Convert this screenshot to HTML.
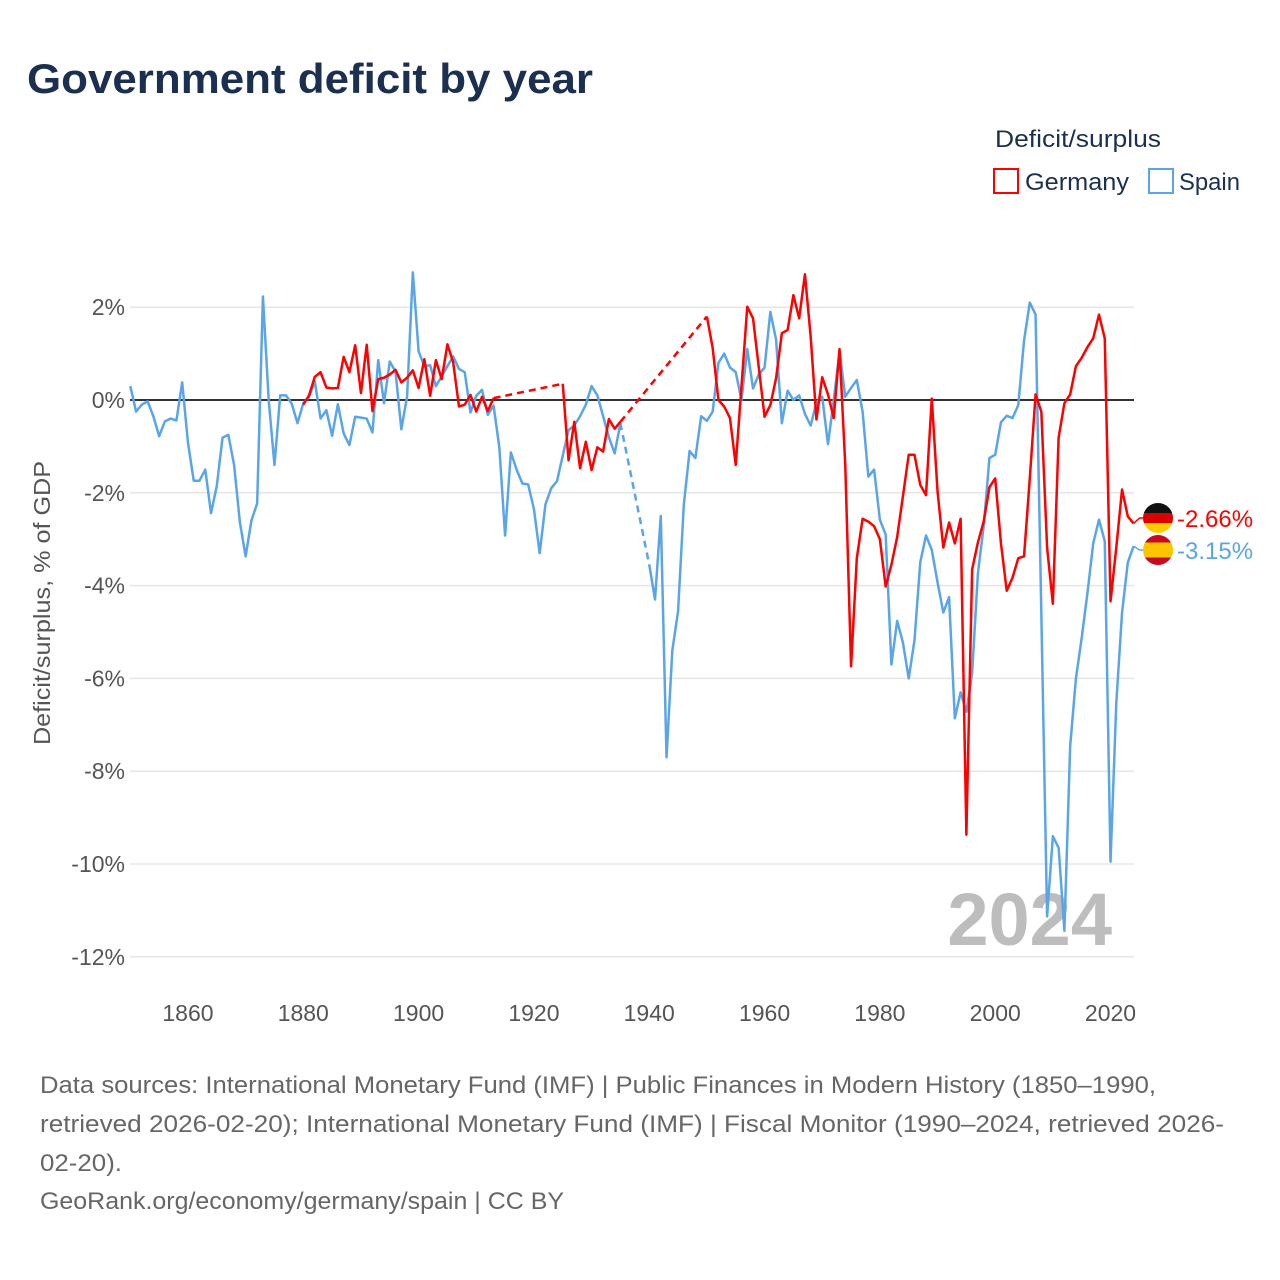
<!DOCTYPE html>
<html><head><meta charset="utf-8"><style>
html,body{margin:0;padding:0;background:#fff;}
svg{display:block;font-family:"Liberation Sans",sans-serif;}
</style></head><body>
<svg id="chart" width="1280" height="1280" viewBox="0 0 1280 1280">
<text x="27" y="93" font-size="42" font-weight="bold" fill="#1b3050" textLength="566" lengthAdjust="spacingAndGlyphs">Government deficit by year</text>
<text x="995" y="147" font-size="24" fill="#1b3050" textLength="166" lengthAdjust="spacingAndGlyphs">Deficit/surplus</text>
<g>
<rect x="994" y="169" width="24" height="24" fill="none" stroke="#f00" stroke-width="2"/>
<text x="1025" y="190" font-size="24" fill="#1b3050" textLength="104" lengthAdjust="spacingAndGlyphs">Germany</text></g>
<g>
<rect x="1149" y="169" width="24" height="24" fill="none" stroke="#5aa5ea" stroke-width="2"/>
<text x="1179" y="190" font-size="24" fill="#1b3050" textLength="61" lengthAdjust="spacingAndGlyphs">Spain</text></g>
<text transform="translate(50,603) rotate(-90)" text-anchor="middle" font-size="23" fill="#555" textLength="284" lengthAdjust="spacingAndGlyphs">Deficit/surplus, % of GDP</text>
<g id="grid"></g>
<g id="yticks"></g>
<g id="xticks"></g>
<text x="1112" y="945" text-anchor="end" font-size="74" font-weight="bold" fill="#bdbdbd">2024</text>
<line id="zero" x1="130" x2="1134" y1="400" y2="400" stroke="#333" stroke-width="2"/>
<g id="series"></g>
<g id="endlabels"></g>
<g fill="#666" font-size="24">
<text x="40" y="1093" textLength="1116" lengthAdjust="spacingAndGlyphs">Data sources: International Monetary Fund (IMF) | Public Finances in Modern History (1850–1990,</text>
<text x="40" y="1132" textLength="1184" lengthAdjust="spacingAndGlyphs">retrieved 2026-02-20); International Monetary Fund (IMF) | Fiscal Monitor (1990–2024, retrieved 2026-</text>
<text x="40" y="1171" textLength="82" lengthAdjust="spacingAndGlyphs">02-20).</text>
<text x="40" y="1209" textLength="524" lengthAdjust="spacingAndGlyphs">GeoRank.org/economy/germany/spain | CC BY</text>
</g>
</svg>
<script>
const yTicks = [2, 0, -2, -4, -6, -8, -10, -12];
const xTicks = [1860, 1880, 1900, 1920, 1940, 1960, 1980, 2000, 2020];
const spainStart = 1850;
const spainValues = [
0.3,-0.25,-0.1,-0.03,-0.35,-0.78,-0.46,-0.4,-0.44,0.38,
-0.92,-1.74,-1.74,-1.5,-2.44,-1.85,-0.81,-0.75,-1.4,-2.63,
-3.37,-2.6,-2.23,2.23,0.0,-1.4,0.1,0.1,-0.08,-0.5,
-0.07,0.07,0.4,-0.4,-0.22,-0.77,-0.09,-0.72,-0.97,-0.36,
-0.38,-0.4,-0.7,0.86,-0.07,0.83,0.61,-0.63,0.07,2.75,
1.05,0.73,0.75,0.3,0.51,0.73,0.94,0.67,0.6,-0.27,
0.09,0.22,-0.32,-0.12,-1.02,-2.92,-1.13,-1.5,-1.8,-1.82,
-2.35,-3.3,-2.25,-1.9,-1.75,-1.2,-0.65,-0.55,-0.35,-0.1,
0.3,0.1,-0.35,-0.8,-1.15,-0.5,null,null,null,null,
-3.55,-4.3,-2.5,-7.7,-5.4,-4.55,-2.25,-1.1,-1.25,-0.35,
-0.45,-0.25,0.8,1.0,0.7,0.6,0.0,1.1,0.25,0.55,
0.7,1.9,1.3,-0.5,0.2,0.0,0.1,-0.3,-0.55,-0.05,
0.07,-0.95,0.0,1.05,0.07,0.26,0.43,-0.25,-1.65,-1.5,
-2.58,-2.9,-5.7,-4.76,-5.23,-6.0,-5.18,-3.5,-2.92,-3.23,
-3.93,-4.58,-4.25,-6.86,-6.3,-6.72,-5.88,-3.74,-2.72,-1.25,
-1.18,-0.48,-0.34,-0.39,-0.11,1.28,2.1,1.84,-4.6,-11.13,
-9.4,-9.65,-11.44,-7.46,-6.0,-5.13,-4.16,-3.09,-2.58,-3.04,
-9.95,-6.53,-4.58,-3.5,-3.15];
const germanyStart = 1880;
const germanyValues = [
-0.1,0.1,0.5,0.6,0.27,0.25,0.26,0.93,0.6,1.18,
0.15,1.19,-0.24,0.45,0.48,0.55,0.65,0.38,0.48,0.64,
0.26,0.88,0.09,0.86,0.45,1.2,0.81,-0.14,-0.1,0.11,
-0.25,0.07,-0.24,0.04,null,null,null,null,null,null,
null,null,null,null,null,0.35,-1.3,-0.47,-1.47,-0.9,
-1.51,-1.02,-1.11,-0.41,-0.62,-0.47,null,null,null,null,
null,null,null,null,null,null,null,null,null,null,
1.8,1.12,0.0,-0.14,-0.39,-1.4,0.3,2.01,1.76,0.7,
-0.36,-0.11,0.47,1.44,1.51,2.26,1.76,2.71,1.36,-0.42,
0.49,0.12,-0.39,1.1,-1.41,-5.74,-3.41,-2.56,-2.62,-2.72,
-3.0,-4.02,-3.55,-2.95,-2.07,-1.18,-1.18,-1.83,-2.05,0.03,
-1.97,-3.18,-2.64,-3.09,-2.56,-9.37,-3.65,-3.07,-2.62,-1.88,
-1.69,-3.09,-4.11,-3.83,-3.41,-3.37,-1.69,0.12,-0.25,-3.18,
-4.39,-0.81,-0.07,0.12,0.73,0.91,1.14,1.33,1.84,1.33,
-4.34,-3.18,-1.93,-2.51,-2.66];
const seriesNames = ["Spain", "Germany"];

const NS = "http://www.w3.org/2000/svg";
const X0 = 130.3, PXY = 5.766, Y0 = 400, PXV = 46.4;
function xs(yr){ return X0 + (yr - 1850) * PXY; }
function ys(v){ return Y0 - v * PXV; }
function mk(tag, attrs, parent){ const e = document.createElementNS(NS, tag); for (const k in attrs) e.setAttribute(k, attrs[k]); parent.appendChild(e); return e; }

const grid = document.getElementById('grid'), yt = document.getElementById('yticks'), xt = document.getElementById('xticks');
yTicks.forEach(t => {
  const l = mk('line', {x1:130, x2:1134, y1:ys(t), y2:ys(t), stroke:'#e6e6e6', 'stroke-width':1.5}, grid);
  
  
  const tx = mk('text', {x:125, y:ys(t)+8, 'text-anchor':'end', 'font-size':23, fill:'#555'}, yt);
  tx.textContent = t + '%';
  
  
});
xTicks.forEach(t => {
  const tx = mk('text', {x:xs(t), y:1021, 'text-anchor':'middle', 'font-size':23, fill:'#555'}, xt);
  tx.textContent = t;
  
  
});

const series = document.getElementById('series');
function drawSeries(start, vals, color, name){
  const g = mk('g', {}, series);
  
  
  let segs = [], cur = [];
  vals.forEach((v, i) => {
    if (v === null) { if (cur.length) segs.push(cur); cur = []; }
    else cur.push([xs(start + i), ys(v)]);
  });
  if (cur.length) segs.push(cur);
  for (let s = 0; s < segs.length; s++) {
    if (s > 0) {
      const a = segs[s-1][segs[s-1].length-1], b = segs[s][0];
      const d = mk('line', {x1:a[0], y1:a[1], x2:b[0], y2:b[1], stroke:color, 'stroke-width':2.5, 'stroke-dasharray':'7 5'}, g);
      
      
    }
    const p = mk('polyline', {points: segs[s].map(q => q.join(',')).join(' '), fill:'none', stroke:color, 'stroke-width':2.5, 'stroke-linejoin':'round'}, g);
    
    
  }
}
drawSeries(spainStart, spainValues, '#5aa5ea', 'spain');
drawSeries(germanyStart, germanyValues, '#ff0000', 'germany');

const el = document.getElementById('endlabels');
function endLabel(start, vals, color, name, cy, stripes){
  const last = vals[vals.length-1], lx = xs(start + vals.length - 1), ly = ys(last);
  const c = mk('polyline', {points:`${lx},${ly} ${lx+6},${cy} ${1143},${cy}`, fill:'none', stroke:color, 'stroke-width':1.5}, el);
  
  
  const clipId = 'clip-' + name;
  const cp = mk('clipPath', {id:clipId}, el);
  mk('circle', {cx:1158, cy:cy, r:15}, cp);
  const fg = mk('g', {'clip-path':`url(#${clipId})`}, el);
  
  
  let y = cy - 15;
  stripes.forEach(s => { mk('rect', {x:1143, y:y, width:30, height:s[1], fill:s[0]}, fg); y += s[1]; });
  const t = mk('text', {x:1177, y:cy+9, 'font-size':24, fill:color}, el);
  t.textContent = last.toFixed(2) + '%';
  
  
}
endLabel(germanyStart, germanyValues, '#ff0000', 'germany', 518, [['#111',10],['#dd0000',10],['#ffce00',10]]);
endLabel(spainStart, spainValues, '#5aa5ea', 'spain', 550, [['#c60b1e',7.5],['#ffc400',15],['#c60b1e',7.5]]);
</script>
</body></html>
